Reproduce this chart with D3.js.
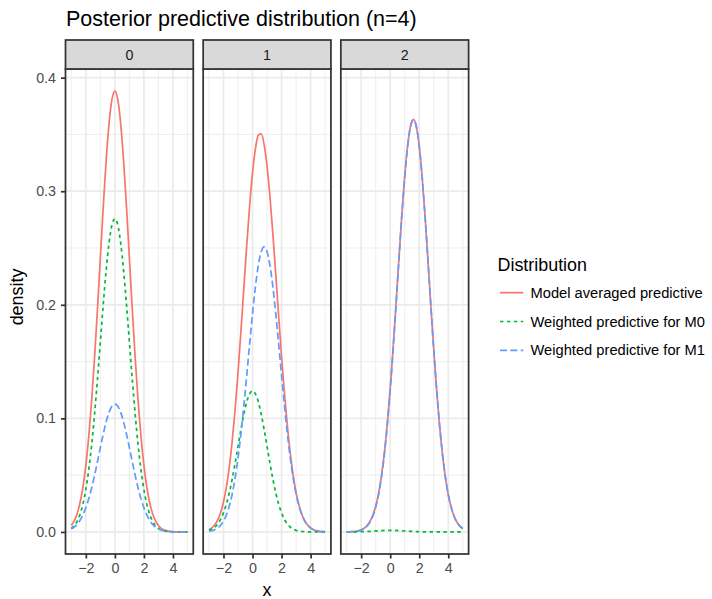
<!DOCTYPE html>
<html><head><meta charset="utf-8">
<script src="https://cdn.jsdelivr.net/npm/d3@7"></script>
<style>body{margin:0;background:#fff} svg text{font-family:"Liberation Sans",Arial,Helvetica,sans-serif}</style>
</head><body><svg id="chart" width="712" height="599"></svg>
<script>
// ---- data ----
const xGrid = [-3,-2.8,-2.6,-2.4,-2.2,-2,-1.8,-1.6,-1.4,-1.2,-1,-0.8,-0.6,-0.4,-0.2,0,0.2,0.4,0.6,0.8,1,1.2,1.4,1.6,1.8,2,2.2,2.4,2.6,2.8,3,3.2,3.4,3.6,3.8,4,4.2,4.4,4.6,4.8,5];
const facets = ["0","1","2"];
const seriesNames = ["Model averaged predictive","Weighted predictive for M0","Weighted predictive for M1"];
const seriesColors = ["#F8766D","#00BA38","#619CFF"];

const modelAvg0 = [0.0057,0.0098,0.0161,0.0257,0.0395,0.0586,0.0837,0.1154,0.1532,0.1959,0.2414,0.2864,0.3271,0.3598,0.3809,0.3882,0.3809,0.3598,0.3271,0.2864,0.2414,0.1959,0.1532,0.1154,0.0837,0.0586,0.0395,0.0257,0.0161,0.0098,0.0057,0.0032,0.0018,0.0009,0.0005,0.0002,0.0001,0.0001,0.0000,0.0000,0.0000];
const weightedM0_0 = [0.0031,0.0055,0.0094,0.0155,0.0245,0.0373,0.0546,0.0766,0.1035,0.1342,0.1672,0.2002,0.2303,0.2545,0.2702,0.2757,0.2702,0.2545,0.2303,0.2002,0.1672,0.1342,0.1035,0.0766,0.0546,0.0373,0.0245,0.0155,0.0094,0.0055,0.0031,0.0016,0.0009,0.0004,0.0002,0.0001,0.0000,0.0000,0.0000,0.0000,0.0000];
const weightedM1_0 = [0.0026,0.0043,0.0067,0.0102,0.0150,0.0213,0.0292,0.0387,0.0497,0.0618,0.0742,0.0862,0.0969,0.1053,0.1107,0.1125,0.1107,0.1053,0.0969,0.0862,0.0742,0.0618,0.0497,0.0387,0.0292,0.0213,0.0150,0.0102,0.0067,0.0043,0.0026,0.0016,0.0009,0.0005,0.0003,0.0001,0.0001,0.0000,0.0000,0.0000,0.0000];

const modelAvg1 = [0.0020,0.0036,0.0063,0.0105,0.0169,0.0264,0.0396,0.0573,0.0800,0.1078,0.1403,0.1765,0.2145,0.2523,0.2870,0.3163,0.3376,0.3493,0.3504,0.3410,0.3220,0.2951,0.2625,0.2267,0.1900,0.1545,0.1219,0.0933,0.0693,0.0499,0.0348,0.0235,0.0154,0.0098,0.0060,0.0036,0.0020,0.0011,0.0006,0.0003,0.0002];
const weightedM0_1 = [0.0014,0.0025,0.0042,0.0070,0.0110,0.0168,0.0246,0.0345,0.0466,0.0604,0.0753,0.0901,0.1036,0.1145,0.1216,0.1241,0.1216,0.1145,0.1036,0.0901,0.0753,0.0604,0.0466,0.0345,0.0246,0.0168,0.0110,0.0070,0.0042,0.0025,0.0014,0.0007,0.0004,0.0002,0.0001,0.0000,0.0000,0.0000,0.0000,0.0000,0.0000];
const weightedM1_1 = [0.0006,0.0011,0.0020,0.0035,0.0059,0.0096,0.0150,0.0228,0.0334,0.0474,0.0650,0.0864,0.1109,0.1377,0.1654,0.1922,0.2160,0.2347,0.2468,0.2509,0.2468,0.2347,0.2160,0.1922,0.1654,0.1377,0.1109,0.0864,0.0650,0.0474,0.0334,0.0228,0.0150,0.0096,0.0059,0.0035,0.0020,0.0011,0.0006,0.0003,0.0002];

const modelAvg2 = [0.0001,0.0001,0.0003,0.0005,0.0010,0.0018,0.0032,0.0055,0.0091,0.0146,0.0226,0.0340,0.0495,0.0699,0.0955,0.1264,0.1618,0.2005,0.2404,0.2790,0.3132,0.3402,0.3574,0.3633,0.3571,0.3396,0.3124,0.2780,0.2392,0.1992,0.1604,0.1249,0.0941,0.0685,0.0483,0.0329,0.0217,0.0138,0.0085,0.0051,0.0029];
const weightedM0_2 = [0.00002,0.00003,0.00005,0.00008,0.00013,0.00020,0.00029,0.00041,0.00055,0.00072,0.00090,0.00107,0.00123,0.00136,0.00145,0.00148,0.00145,0.00136,0.00123,0.00107,0.00090,0.00072,0.00055,0.00041,0.00029,0.00020,0.00013,0.00008,0.00005,0.00003,0.00002,0.00001,0,0,0,0,0,0,0,0,0];
const weightedM1_2 = [0.0001,0.0001,0.0002,0.0005,0.0009,0.0016,0.0029,0.0051,0.0085,0.0138,0.0217,0.0329,0.0483,0.0685,0.0941,0.1249,0.1603,0.1991,0.2392,0.2779,0.3123,0.3394,0.3568,0.3628,0.3568,0.3394,0.3123,0.2779,0.2392,0.1991,0.1603,0.1249,0.0941,0.0685,0.0483,0.0329,0.0217,0.0138,0.0085,0.0051,0.0029];

const xMajorTicks = [-2,0,2,4];
const xMinorTicks = [-3,-1,1,3,5];
const xTickLabels = ["\u22122","0","2","4"];
const yMajorTicks = [0,0.1,0.2,0.3,0.4];
const yMinorTicks = [0.05,0.15,0.25,0.35];
const yTickLabels = ["0.0","0.1","0.2","0.3","0.4"];

// ---- assembly ----
const panelSeries = [
  [modelAvg0, weightedM0_0, weightedM1_0],
  [modelAvg1, weightedM0_1, weightedM1_1],
  [modelAvg2, weightedM0_2, weightedM1_2]
];

const lw = 1.73;
const seriesDash = [null, `${2*lw},${2*lw}`, `${4*lw},${2*lw}`];
const panelTop = 69, panelBottom = 554, stripTop = 40;
const tickFont = 14.3, titleFont = 17.9, legendFont = 14.7;

const svg = d3.select("#chart");
svg.append("rect").attr("width",712).attr("height",599).attr("fill","#fff");

const band = d3.scaleBand().domain(facets).range([65.5, 468.6]).paddingInner(0.0719).paddingOuter(0);
const W = band.bandwidth();
const xExt = d3.extent(xGrid), xPad = (xExt[1]-xExt[0])*0.05;
const x = d3.scaleLinear().domain([xExt[0]-xPad, xExt[1]+xPad]).range([0, W]);
const yMax = d3.max(panelSeries.flat(2));
const y = d3.scaleLinear().domain([-0.05*yMax, 1.05*yMax]).range([panelBottom, panelTop]);

const defs = svg.append("defs");
defs.append("clipPath").attr("id","pclip").append("rect")
  .attr("x",0).attr("y",panelTop).attr("width",W).attr("height",panelBottom-panelTop);

const line = d3.line().x((d,i)=>x(xGrid[i])).y(d=>y(d)).curve(d3.curveMonotoneX);

facets.forEach((f, pi) => {
  const g = svg.append("g").attr("transform", `translate(${band(f)},0)`);
  g.append("rect").attr("x",0).attr("y",panelTop).attr("width",W).attr("height",panelBottom-panelTop).attr("fill","#fff");
  const grid = g.append("g");
  grid.selectAll(".xmin").data(xMinorTicks).join("line")
    .attr("x1",d=>x(d)).attr("x2",d=>x(d)).attr("y1",panelTop).attr("y2",panelBottom)
    .attr("stroke","#EBEBEB").attr("stroke-width",lw/2);
  grid.selectAll(".ymin").data(yMinorTicks).join("line")
    .attr("x1",0).attr("x2",W).attr("y1",d=>y(d)).attr("y2",d=>y(d))
    .attr("stroke","#EBEBEB").attr("stroke-width",lw/2);
  grid.selectAll(".xmaj").data(xMajorTicks).join("line")
    .attr("x1",d=>x(d)).attr("x2",d=>x(d)).attr("y1",panelTop).attr("y2",panelBottom)
    .attr("stroke","#EBEBEB").attr("stroke-width",lw);
  grid.selectAll(".ymaj").data(yMajorTicks).join("line")
    .attr("x1",0).attr("x2",W).attr("y1",d=>y(d)).attr("y2",d=>y(d))
    .attr("stroke","#EBEBEB").attr("stroke-width",lw);

  const lines = g.append("g").attr("clip-path","url(#pclip)");
  panelSeries[pi].forEach((vals, si) => {
    lines.append("path").datum(vals).attr("d", line)
      .attr("fill","none").attr("stroke", seriesColors[si]).attr("stroke-width", lw)
      .attr("stroke-dasharray", seriesDash[si]);
  });

  g.append("rect").attr("x",0).attr("y",panelTop).attr("width",W).attr("height",panelBottom-panelTop)
    .attr("fill","none").attr("stroke","#333333").attr("stroke-width",lw);

  // strip
  g.append("rect").attr("x",0).attr("y",stripTop).attr("width",W).attr("height",panelTop-stripTop)
    .attr("fill","#D9D9D9").attr("stroke","#333333").attr("stroke-width",lw);
  g.append("text").attr("x",W/2).attr("y",(stripTop+panelTop)/2).attr("dy","0.36em")
    .attr("text-anchor","middle").attr("font-size",tickFont).attr("fill","#1A1A1A").text(f);

  // x axis
  const ax = g.append("g").attr("transform",`translate(0,${panelBottom})`)
    .call(d3.axisBottom(x).tickValues(xMajorTicks).tickFormat((d,i)=>xTickLabels[i]).tickSize(4.5).tickPadding(4.8));
  ax.select(".domain").remove();
  ax.selectAll(".tick line").attr("stroke","#333333").attr("stroke-width",lw);
  ax.selectAll(".tick text").attr("fill","#4D4D4D").attr("font-size",tickFont).attr("font-family",null);

  if (pi === 0) {
    const ay = g.append("g")
      .call(d3.axisLeft(y).tickValues(yMajorTicks).tickFormat((d,i)=>yTickLabels[i]).tickSize(4.5).tickPadding(5));
    ay.select(".domain").remove();
    ay.selectAll(".tick line").attr("stroke","#333333").attr("stroke-width",lw);
    ay.selectAll(".tick text").attr("fill","#4D4D4D").attr("font-size",tickFont).attr("font-family",null);
  }
});

// titles
svg.append("text").attr("x",66).attr("y",26).attr("font-size",21.5).attr("fill","#000")
  .text("Posterior predictive distribution (n=4)");
svg.append("text").attr("transform","translate(23,297) rotate(-90)").attr("text-anchor","middle")
  .attr("font-size",titleFont).attr("fill","#000").text("density");
svg.append("text").attr("x",(band(facets[0]) + band(facets[2]) + W)/2).attr("y",596).attr("text-anchor","middle")
  .attr("font-size",titleFont).attr("fill","#000").text("x");

// legend
const lg = svg.append("g").attr("transform","translate(497.5,0)");
lg.append("text").attr("x",0).attr("y",270.7).attr("font-size",titleFont).attr("fill","#000").text("Distribution");
const keyY = d3.scalePoint().domain(seriesNames).range([292.7, 350.3]);
seriesNames.forEach((name, si) => {
  const cy = keyY(name);
  lg.append("line").attr("x1",2.5).attr("x2",25.8).attr("y1",cy).attr("y2",cy)
    .attr("stroke",seriesColors[si]).attr("stroke-width",lw).attr("stroke-dasharray",seriesDash[si]);
  lg.append("text").attr("x",33).attr("y",cy).attr("dy","0.35em").attr("font-size",legendFont)
    .attr("fill","#000").text(name);
});
</script>
</body></html>
